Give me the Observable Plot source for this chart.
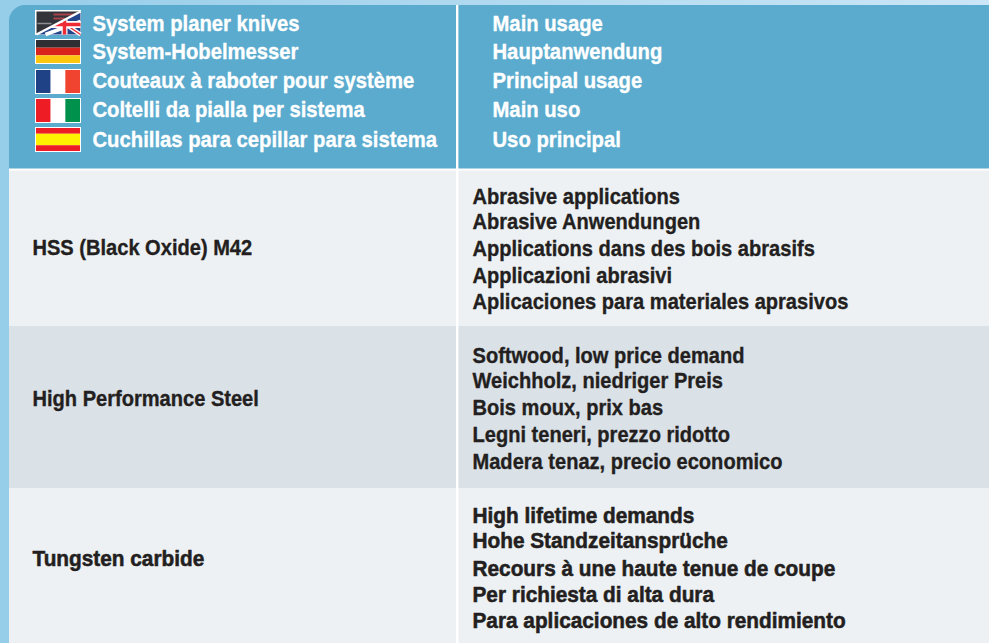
<!DOCTYPE html>
<html><head><meta charset="utf-8">
<script src="https://cdn.jsdelivr.net/npm/d3@7"></script>
<script src="https://cdn.jsdelivr.net/npm/@observablehq/plot@0.6"></script>
<style>html,body{margin:0;padding:0;background:#fff}svg{display:block}</style>
</head><body><div id="c"></div>
<script>
const headerNames = ["System planer knives","System-Hobelmesser","Couteaux à raboter pour système","Coltelli da pialla per sistema","Cuchillas para cepillar para sistema"];
const headerUsage = ["Main usage","Hauptanwendung","Principal usage","Main uso","Uso principal"];
const materials = ["HSS (Black Oxide) M42","High Performance Steel"];
const materials3 = ["Tungsten carbide"];
const usage1 = ["Abrasive applications","Abrasive Anwendungen","Applications dans des bois abrasifs","Applicazioni abrasivi","Aplicaciones para materiales aprasivos"];
const usage2 = ["Softwood, low price demand","Weichholz, niedriger Preis","Bois moux, prix bas","Legni teneri, prezzo ridotto","Madera tenaz, precio economico"];
const usage3 = ["High lifetime demands","Hohe Standzeitansprüche","Recours à une haute tenue de coupe","Per richiesta di alta dura","Para aplicaciones de alto rendimiento"];

// layout (pixel-scale table grid)
const W=989,H=643,font='"Liberation Sans",sans-serif';
const rowBands=[[170,326,"#edf1f4"],[326,488,"#dae1e7"],[488,643,"#edf1f4"]];
const headY=[23.5,51.5,80.5,109.5,139.5];
const rowY=[[196.5,221.5,248.5,275.5,301.5],[355.5,380.5,407.5,434.5,461.5],[515.5,540.5,568.5,594.5,620.5]];
const matY=[247.5,398.5];
const matY3=[558.5];
const flagY=[10,39,69,98,127];
const FX=36,FW=44,FH=23;
const hstripes=(i,parts)=>{let y=flagY[i]+1,t=parts.reduce((a,p)=>a+p[0],0);return parts.map(p=>{const o={x1:FX,x2:FX+FW,y1:y,y2:y+FH*p[0]/t,f:p[1]};y=o.y2;return o;});};
const vstripes=(i,parts)=>{let x=FX;const t=parts.reduce((a,p)=>a+p[0],0);return parts.map(p=>{const o={x1:x,x2:x+FW*p[0]/t,y1:flagY[i]+1,y2:flagY[i]+1+FH,f:p[1]};x=o.x2;return o;});};
const flagRects=[
 ...hstripes(1,[[1,"#2f2f33"],[1,"#d9241c"],[1,"#fdc70f"]]),
 ...vstripes(2,[[1,"#1f4286"],[1,"#ffffff"],[1,"#f04430"]]),
 ...vstripes(3,[[1,"#ee1c25"],[1,"#ffffff"],[1,"#00914c"]]),
 ...hstripes(4,[[1,"#ee1c25"],[2,"#fff200"],[1,"#ee1c25"]])
];
const y0=flagY[0]+1,y1=y0+FH,x0=FX,x1=FX+FW;
const poly=(pts,f)=>Plot.line(pts,{x:d=>d[0],y:d=>d[1],curve:"linear-closed",fill:f,stroke:"none"});
const seg=(a,b,c,w)=>Plot.line([a,b],{x:d=>d[0],y:d=>d[1],stroke:c,strokeWidth:w,strokeLinecap:"butt"});

const txt=(labels,ys,x,fill,size,cls,sw=0.35)=>Plot.text(labels,{x:()=>x,y:(d,i)=>ys[i],text:d=>d,textAnchor:"start",fill,stroke:fill,strokeWidth:sw,fontSize:size,fontWeight:700,fontFamily:font,className:cls});
const gradient=()=>{const s=d3.create("svg:defs");const g=s.append("linearGradient").attr("id","topg");
 g.append("stop").attr("offset","0").attr("stop-color","#96cde9");g.append("stop").attr("offset","1").attr("stop-color","#cbe6f6");return s.node();};

const plot=Plot.plot({width:W,height:H,margin:0,
 x:{domain:[0,W],range:[0,W],axis:null},y:{domain:[0,H],range:[0,H],axis:null},
 style:{background:"#96cde9"},
 marks:[
  gradient,
  Plot.rect([0],{x1:0,x2:W,y1:0,y2:5,fill:"url(#topg)"}),
  Plot.rect([0],{x1:9,x2:W+40,y1:5,y2:200,fill:"#5aabce",r:16}),
  Plot.rect(rowBands,{x1:()=>9,x2:()=>W,y1:d=>d[0],y2:d=>d[1],fill:d=>d[2]}),
  Plot.ruleY([169],{x1:9,x2:W,stroke:"#fff",strokeWidth:2}),
  Plot.ruleX([456.7],{y1:5,y2:H,stroke:"#fff",strokeWidth:2.4}),
  Plot.rect(flagY,{x1:()=>FX-1,x2:()=>x1+1,y1:d=>d,y2:d=>d+FH+2,fill:"#fff"}),
  Plot.rect(flagRects,{x1:"x1",x2:"x2",y1:"y1",y2:"y2",fill:d=>d.f}),
  poly([[x0,y1],[x1,y0],[x1,y1]],"#24448c"),
  seg([x0+9,y1],[x1,y1-13],"#fff",4),
  seg([x0+22,y0+8],[x1,y1],"#fff",4),
  seg([x0+22,y0+8],[x1,y1],"#ee2a35",1.5),
  seg([x0+28,y1],[x0+28,y0+5],"#fff",6),
  seg([x0+15,y0+13],[x1,y0+13],"#fff",7),
  seg([x0+28,y1],[x0+28,y0+5],"#ee2a35",3.5),
  seg([x0+12,y0+13],[x1,y0+13],"#ee2a35",3.5),
  poly([[x0,y0],[x1,y0],[x0,y1]],"#33343a"),
  seg([x0+17,y0+3],[x0+38,y0+3],"#a8434c",2),
  seg([x0+17,y0+7],[x0+28,y0+7],"#a8434c",2),
  seg([x0+1,y0+12],[x0+15,y0+12],"#8c8c92",1.5),
  seg([x0,y1],[x1,y0],"#fff",2.5),
  txt(headerNames,headY,92,"#fff",22.5,"hd"),
  txt(headerUsage,headY,492,"#fff",22.5,"hd"),
  txt(materials,matY,32,"#231f20",22,"bd"),
  txt(materials3,matY3,32,"#231f20",22,"bd3",0.55),
  txt(usage1,rowY[0],472,"#231f20",22,"bd"),
  txt(usage2,rowY[1],472,"#231f20",22,"bd"),
  txt(usage3,rowY[2],472,"#231f20",22,"bd3",0.55)
 ]});
document.getElementById("c").append(plot);
// condense the type to match the reference's narrow bold face
const squeeze=(sel,k)=>plot.querySelectorAll(sel+" text").forEach(t=>{t.setAttribute("lengthAdjust","spacingAndGlyphs");t.setAttribute("textLength",t.getComputedTextLength()*k);});
squeeze(".hd",0.9);squeeze(".bd",0.912);squeeze(".bd3",0.945);
</script></body></html>
